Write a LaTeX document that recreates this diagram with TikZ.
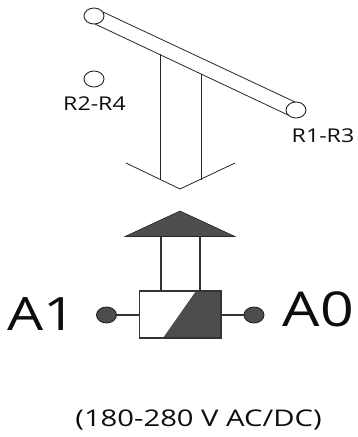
\documentclass[tikz,border=0pt]{standalone}
\usepackage{fontspec}
\usepackage{graphicx}
\setmainfont{Open Sans}
\definecolor{darkfill}{HTML}{4D4D4D}
\definecolor{linecol}{HTML}{333333}
\usetikzlibrary{shapes.geometric}
\tikzset{
  wire/.style={draw=linecol,line width=1.1pt},
  thin wire/.style={draw=black!85,line width=0.8pt},
  hollow/.style={ellipse,draw=black!85,line width=0.9pt,fill=white,minimum width=20pt,minimum height=16pt,inner sep=0pt},
  solid pin/.style={ellipse,draw=black!85,line width=0.9pt,fill=darkfill,minimum width=20pt,minimum height=16pt,inner sep=0pt},
  label text/.style={anchor=center,inner sep=0pt,text=black!95},
}
\newcommand{\wide}[1]{\scalebox{1.22}[1]{#1}}
\begin{document}
\begin{tikzpicture}[x=1pt,y=-1pt]
\useasboundingbox (0,0) rectangle (358,437);
% rocker bar
\coordinate (barTL) at (103,12);
\coordinate (barTR) at (295,102);
\coordinate (barBL) at (95,24);
\coordinate (barBR) at (288,115);
\draw[thin wire] (barTL) -- (barTR);
\draw[thin wire] (barBL) -- (barBR);
\node[hollow] (c1) at (94,16) {};
\node[hollow] (c2) at (296,110) {};
\node[hollow] (c3) at (94,79) {};
\node[label text,font=\fontsize{19}{22}\selectfont] (r24) at (94.5,104) {\wide{R2-R4}};
\node[label text,font=\fontsize{19}{22}\selectfont] (r13) at (323,136) {\wide{R1-R3}};
% hollow arrow
\coordinate (s1) at (160,54);
\coordinate (s2) at (201,74);
\coordinate (s1e) at (160,180);
\coordinate (s2e) at (201,180);
\coordinate (hl) at (126,163);
\coordinate (ht) at (180,189);
\coordinate (hr) at (235,163);
\draw[thin wire] (s1) -- (s1e);
\draw[thin wire] (s2) -- (s2e);
\draw[thin wire] (hl) -- (ht) -- (hr);
% solid arrow
\coordinate (tA) at (180,211);
\coordinate (tL) at (125,236.5);
\coordinate (tR) at (235,236.5);
\fill[darkfill,draw=black!85,line width=0.6pt,line join=miter] (tA) -- (tR) -- (tL) -- cycle;
\coordinate (v1) at (161,236);
\coordinate (v2) at (200,236);
\coordinate (v1e) at (161,291);
\coordinate (v2e) at (200,291);
\draw[wire] (v1) -- (v1e);
\draw[wire] (v2) -- (v2e);
% coil
\coordinate (bTL) at (139.5,291);
\coordinate (bTR) at (221,291);
\coordinate (bBR) at (221,338);
\coordinate (bBL) at (139.5,338);
\coordinate (dT) at (196,291);
\coordinate (dB) at (163,338);
\fill[white] (bTL) -- (bTR) -- (bBR) -- (bBL) -- cycle;
\fill[darkfill] (dT) -- (bTR) -- (bBR) -- (dB) -- cycle;
\draw[wire] (bTL) -- (bTR) -- (bBR) -- (bBL) -- cycle;
\node[solid pin] (pL) at (106.5,315) {};
\node[solid pin] (pR) at (254,315) {};
\coordinate (bL) at (139.5,315);
\coordinate (bR) at (221,315);
\draw[wire] (pL) -- (bL);
\draw[wire] (bR) -- (pR);
\node[label text,font=\fontsize{46}{50}\selectfont] (a1) at (42,314.5) {\scalebox{1.24}[1]{A1}};
\node[label text,font=\fontsize{48}{52}\selectfont] (a0) at (318.5,309.5) {\scalebox{1.23}[1]{A0}};
\node[label text,font=\fontsize{23}{27}\selectfont] (v) at (198.5,420) {\scalebox{1.27}[1]{(180-280 V AC/DC)}};
\end{tikzpicture}
\end{document}
